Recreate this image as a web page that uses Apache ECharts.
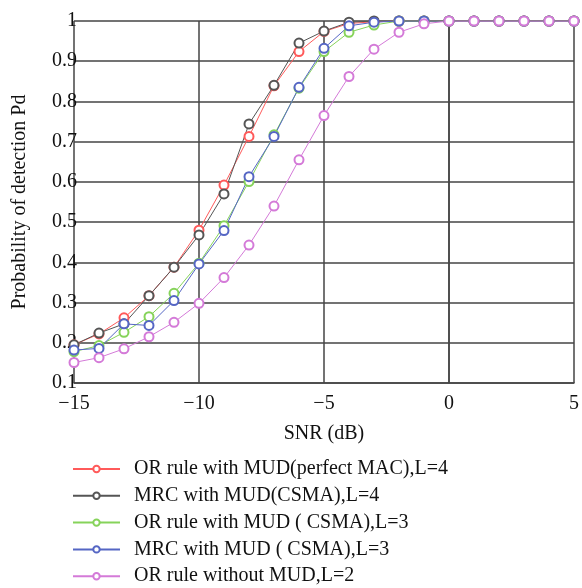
<!DOCTYPE html>
<html><head><meta charset="utf-8">
<script src="https://cdn.jsdelivr.net/npm/echarts@6/dist/echarts.min.js"></script>
<style>html,body{margin:0;padding:0;background:#fff}#c{width:582px;height:588px}</style>
</head><body><div id="c"></div>
<script>
const snr = [-15,-14,-13,-12,-11,-10,-9,-8,-7,-6,-5,-4,-3,-2,-1,0,1,2,3,4,5];
const orPerfectL4 = [0.195,0.222,0.262,0.317,0.388,0.480,0.592,0.713,0.839,0.924,0.974,0.994,0.998,1,1,1,1,1,1,1,1];
const mrcCsmaL4   = [0.195,0.224,0.247,0.317,0.388,0.468,0.570,0.744,0.840,0.945,0.975,0.997,1,1,1,1,1,1,1,1,1];
const orCsmaL3    = [0.178,0.193,0.226,0.265,0.323,0.398,0.491,0.601,0.717,0.833,0.924,0.972,0.990,1,1,1,1,1,1,1,1];
const mrcCsmaL3   = [0.182,0.186,0.247,0.243,0.305,0.396,0.479,0.613,0.713,0.835,0.932,0.988,0.997,1,1,1,1,1,1,1,1];
const orNoMudL2   = [0.151,0.163,0.185,0.215,0.251,0.298,0.362,0.443,0.540,0.655,0.765,0.862,0.930,0.972,0.993,1,1,1,1,1,1];
const names = ['OR rule with MUD(perfect MAC),L=4','MRC with MUD(CSMA),L=4','OR rule with MUD ( CSMA),L=3','MRC with MUD ( CSMA),L=3','OR rule without MUD,L=2'];
const colors = ['#ff5a5a','#555555','#86d35a','#5566c4','#d47ad8'];
const allData = [orPerfectL4, mrcCsmaL4, orCsmaL3, mrcCsmaL3, orNoMudL2];

const font = 'Liberation Serif';
const chart = echarts.init(document.getElementById('c'), null, {renderer:'canvas'});
chart.setOption({
  animation:false,
  backgroundColor:'#fff',
  grid:{left:74,right:3,top:21,bottom:205,containLabel:false},
  xAxis:{type:'value',min:-15,max:5,interval:5,
    name:'SNR (dB)',nameLocation:'middle',nameGap:41,
    nameTextStyle:{fontFamily:font,fontSize:20,color:'#111'},
    axisLine:{show:true,lineStyle:{color:'#444',width:1.5}},
    axisTick:{show:false},
    axisLabel:{fontFamily:font,fontSize:20,color:'#111',margin:11,formatter:v=>String(v).replace('-','\u2212')},
    splitLine:{show:true,lineStyle:{color:'#444',width:1.5}}},
  yAxis:{type:'value',min:0.1,max:1,interval:0.1,
    name:'Probability of detection Pd',nameLocation:'middle',nameGap:44,
    nameTextStyle:{fontFamily:font,fontSize:20,color:'#111'},
    axisLine:{show:true,lineStyle:{color:'#444',width:1.5}},
    axisTick:{show:false},
    axisLabel:{fontFamily:font,fontSize:20,color:'#111',margin:-3,formatter:v=>String(+v.toFixed(1))},
    splitLine:{show:true,lineStyle:{color:'#444',width:1.5}}},
  legend: names.map((n,i)=>({orient:'vertical',left:67,top:454+26.8*i,itemWidth:47,itemHeight:8,
    textStyle:{fontFamily:font,fontSize:20,color:'#111',padding:[0,0,0,9]},
    data:[n]})),
  series: allData.map((d,i)=>({
    name:names[i],type:'line',
    data:snr.map((x,j)=>[x,d[j]]),
    symbol:'emptyCircle',symbolSize:9,
    color:colors[i],
    lineStyle:{width:1,color:colors[i]},
    itemStyle:{color:colors[i],borderWidth:1}
  }))
});
</script></body></html>
